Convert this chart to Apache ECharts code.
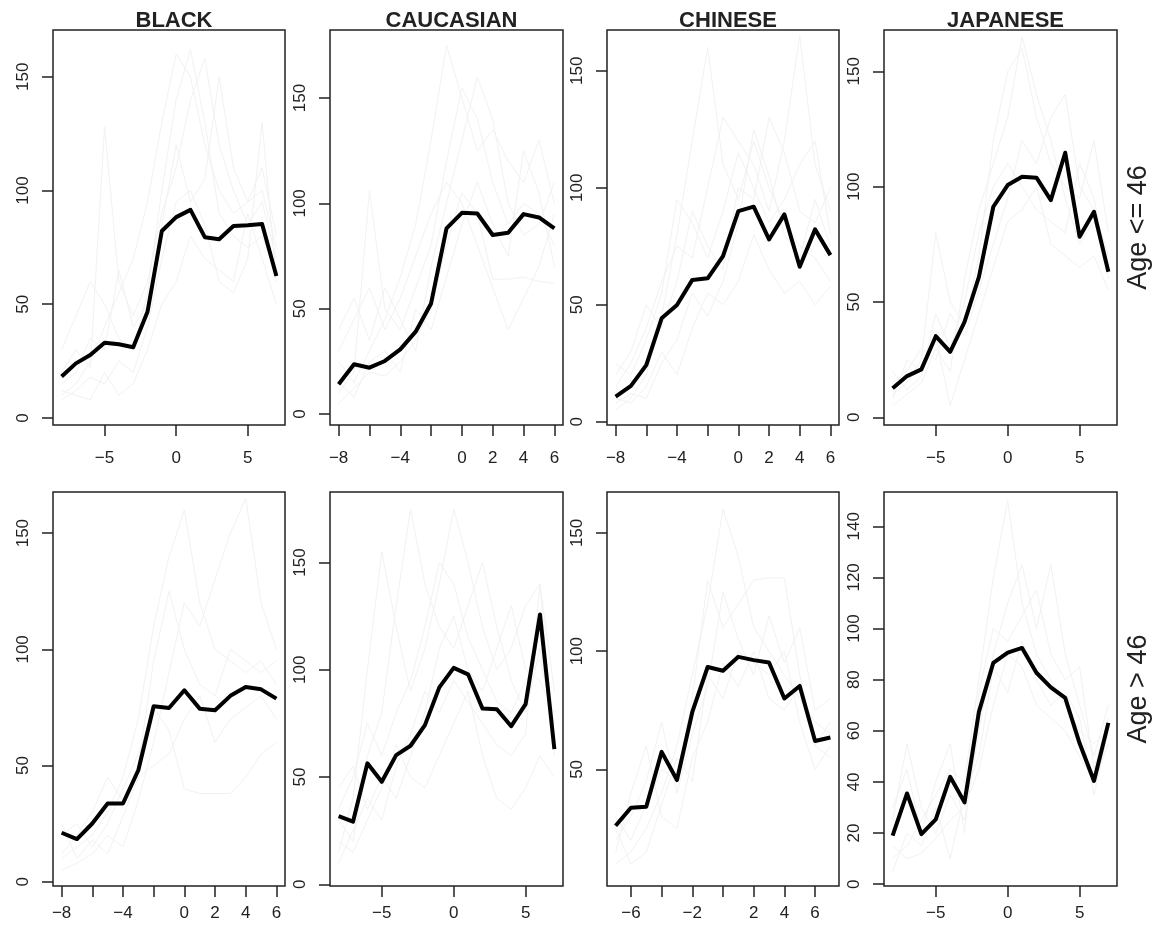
<!DOCTYPE html>
<html>
<head>
<meta charset="utf-8">
<script src="https://cdn.jsdelivr.net/npm/echarts@6/dist/echarts.min.js"></script>
<style>
  html, body { margin: 0; padding: 0; background: #fff; }
  #chart { width: 1160px; height: 932px; }
</style>
</head>
<body>
<div id="chart"></div>
<script>
var groups = ['BLACK', 'CAUCASIAN', 'CHINESE', 'JAPANESE'];
var ageLabels = ['Age <= 46', 'Age > 46'];

// time axes
var xFrom8To7 = [-8, -7, -6, -5, -4, -3, -2, -1, 0, 1, 2, 3, 4, 5, 6, 7];
var xFrom8To6 = [-8, -7, -6, -5, -4, -3, -2, -1, 0, 1, 2, 3, 4, 5, 6];
var xFrom7To7 = [-7, -6, -5, -4, -3, -2, -1, 0, 1, 2, 3, 4, 5, 6, 7];

// tick labels
var xTicksFive = [-5, 0, 5];
var xTicksEven = [-8, -6, -4, -2, 0, 2, 4, 6];
var xLabelsEven = [-8, -4, 0, 2, 4, 6];
var xTicksSix = [-6, -4, -2, 0, 2, 4, 6];
var xLabelsSix = [-6, -2, 2, 4, 6];
var yTicks50 = [0, 50, 100, 150];
var yTicks50NoZero = [50, 100, 150];
var yTicks20 = [0, 20, 40, 60, 80, 100, 120, 140];

// mean curves (thick black)
var meanBlackYoung = [18.2, 24.0, 27.7, 33.1, 32.4, 31.1, 46.7, 82.2, 88.3, 91.5, 79.5, 78.6, 84.4, 84.7, 85.3, 62.4];
var meanCaucYoung = [14.1, 23.6, 22.0, 25.2, 30.7, 39.1, 52.5, 88.1, 95.5, 95.2, 85.0, 86.1, 94.9, 93.3, 88.1];
var meanChinYoung = [10.7, 15.3, 24.2, 44.2, 49.9, 60.6, 61.3, 70.8, 90.0, 91.9, 77.9, 88.6, 66.2, 82.2, 71.2];
var meanJapYoung = [12.6, 17.9, 20.8, 35.2, 28.4, 41.4, 60.9, 91.3, 100.7, 104.3, 103.9, 94.2, 114.7, 78.3, 89.1, 63.1];
var meanBlackOld = [21.1, 18.4, 25.1, 33.7, 33.7, 48.0, 75.5, 74.8, 82.4, 74.5, 73.8, 80.0, 83.8, 82.8, 78.8];
var meanCaucOld = [31.8, 29.2, 56.4, 47.8, 60.2, 64.6, 74.2, 91.8, 100.9, 97.9, 82.0, 81.6, 73.7, 84.0, 125.8, 63.0];
var meanChinOld = [26.2, 33.8, 34.2, 57.4, 45.5, 74.3, 93.3, 91.7, 97.6, 96.2, 95.2, 80.0, 85.3, 62.0, 63.5];
var meanJapOld = [19.0, 35.5, 19.6, 25.4, 42.0, 32.0, 67.4, 86.6, 90.6, 92.4, 82.7, 77.0, 72.9, 55.1, 40.4, 63.1];

// individual curves (faint grey), estimated
var faintBlackYoung = [
  [10, 15, 25, 40, 55, 70, 95, 130, 160, 150, 120, 100, 90, 95, 110, 80],
  [20, 30, 22, 128, 60, 45, 60, 90, 110, 140, 158, 120, 100, 85, 95, 70],
  [8, 12, 18, 15, 25, 20, 40, 70, 95, 100, 85, 60, 55, 70, 130, 60],
  [30, 45, 60, 50, 35, 30, 55, 100, 140, 162, 130, 90, 80, 75, 80, 65],
  [12, 10, 8, 20, 10, 15, 30, 50, 60, 80, 70, 65, 60, 90, 70, 50],
  [15, 20, 35, 30, 65, 40, 50, 85, 120, 95, 105, 150, 110, 95, 100, 75]
];
var faintCaucYoung = [
  [10, 20, 106, 50, 40, 60, 80, 120, 155, 140, 110, 90, 100, 95, 80],
  [25, 15, 30, 45, 65, 90, 130, 175, 150, 125, 135, 120, 110, 130, 100],
  [5, 12, 20, 18, 25, 35, 50, 80, 105, 95, 64, 64, 65, 63, 62],
  [40, 55, 35, 60, 45, 30, 70, 100, 130, 160, 140, 100, 85, 90, 110],
  [15, 8, 25, 30, 20, 50, 40, 65, 90, 110, 90, 75, 125, 105, 70],
  [30, 45, 60, 40, 55, 75, 95, 110, 100, 80, 60, 40, 55, 70, 95]
];
var faintChinYoung = [
  [5, 10, 20, 45, 80, 120, 160, 110, 95, 120, 100, 85, 75, 70, 60],
  [15, 25, 40, 60, 75, 70, 100, 130, 120, 110, 90, 120, 165, 110, 90],
  [8, 12, 10, 25, 35, 55, 45, 60, 85, 125, 105, 80, 70, 95, 75],
  [20, 30, 50, 40, 60, 90, 75, 65, 100, 95, 130, 115, 90, 85, 100],
  [10, 8, 15, 30, 20, 40, 55, 50, 60, 80, 65, 55, 60, 50, 58],
  [25, 20, 35, 55, 95, 85, 70, 90, 115, 100, 85, 95, 110, 120, 80]
];
var faintJapYoung = [
  [10, 15, 25, 80, 50, 40, 70, 120, 150, 160, 130, 110, 100, 95, 120, 80],
  [5, 10, 15, 30, 20, 60, 90, 110, 130, 165, 140, 120, 95, 75, 85, 65],
  [15, 20, 30, 25, 45, 35, 55, 75, 95, 120, 110, 130, 140, 100, 90, 70],
  [20, 12, 18, 45, 30, 50, 80, 100, 110, 100, 90, 85, 80, 110, 95, 60],
  [8, 25, 20, 35, 5, 25, 45, 65, 85, 90, 100, 75, 70, 65, 70, 55]
];
var faintBlackOld = [
  [10, 15, 20, 30, 45, 70, 110, 140, 160, 120, 100, 95, 90, 95, 85],
  [5, 8, 12, 20, 15, 35, 60, 90, 120, 110, 130, 150, 165, 120, 100],
  [20, 25, 15, 25, 40, 55, 75, 65, 40, 38, 38, 38, 45, 55, 60],
  [12, 20, 30, 45, 35, 50, 95, 125, 100, 85, 80, 100, 95, 90, 95],
  [25, 10, 18, 12, 28, 45, 50, 55, 70, 80, 60, 70, 75, 80, 70]
];
var faintCaucOld = [
  [15, 40, 100, 155, 120, 90, 110, 140, 175, 150, 120, 100, 110, 130, 140, 90],
  [30, 20, 60, 80, 130, 175, 140, 120, 110, 130, 150, 120, 95, 80, 110, 70],
  [10, 25, 40, 30, 55, 70, 90, 80, 95, 85, 75, 65, 60, 70, 140, 60],
  [45, 55, 35, 50, 40, 60, 80, 110, 125, 100, 90, 110, 130, 100, 95, 80],
  [20, 15, 30, 45, 65, 50, 45, 60, 75, 90, 60, 40, 35, 45, 60, 50],
  [35, 50, 75, 60, 80, 95, 120, 150, 140, 115, 100, 85, 80, 95, 105, 75]
];
var faintChinOld = [
  [10, 15, 25, 40, 60, 90, 120, 160, 140, 110, 100, 90, 80, 70, 65],
  [30, 20, 35, 50, 45, 80, 130, 110, 120, 130, 131, 131, 90, 60, 55],
  [15, 40, 60, 30, 25, 55, 70, 95, 85, 100, 80, 75, 85, 60, 70],
  [25, 10, 15, 35, 55, 45, 90, 80, 100, 95, 90, 100, 70, 50, 60],
  [20, 30, 45, 70, 40, 65, 85, 125, 105, 90, 115, 95, 110, 75, 80]
];
var faintJapOld = [
  [10, 15, 25, 35, 45, 40, 80, 120, 150, 110, 90, 80, 70, 60, 55, 60],
  [25, 55, 30, 20, 35, 25, 60, 90, 110, 125, 100, 125, 90, 70, 50, 70],
  [15, 10, 12, 18, 25, 30, 45, 70, 90, 85, 70, 65, 60, 50, 40, 55],
  [30, 45, 20, 40, 55, 20, 75, 100, 95, 105, 115, 90, 80, 85, 45, 65],
  [5, 20, 15, 30, 10, 35, 50, 85, 75, 95, 80, 70, 75, 65, 35, 60]
];

var panels = [
  {x: xFrom8To7, mean: meanBlackYoung, faint: faintBlackYoung, yMin: -3.1, yMax: 170.6, yTicks: yTicks50, xTicks: xTicksFive, xLabels: xTicksFive},
  {x: xFrom8To6, mean: meanCaucYoung, faint: faintCaucYoung, yMin: -5.2, yMax: 182.3, yTicks: yTicks50, xTicks: xTicksEven, xLabels: xLabelsEven},
  {x: xFrom8To6, mean: meanChinYoung, faint: faintChinYoung, yMin: -1.4, yMax: 167.4, yTicks: yTicks50, xTicks: xTicksEven, xLabels: xLabelsEven},
  {x: xFrom8To7, mean: meanJapYoung, faint: faintJapYoung, yMin: -3.3, yMax: 167.9, yTicks: yTicks50, xTicks: xTicksFive, xLabels: xTicksFive},
  {x: xFrom8To6, mean: meanBlackOld, faint: faintBlackOld, yMin: -1.8, yMax: 167.7, yTicks: yTicks50, xTicks: xTicksEven, xLabels: xLabelsEven},
  {x: xFrom8To7, mean: meanCaucOld, faint: faintCaucOld, yMin: -0.8, yMax: 182.9, yTicks: yTicks50, xTicks: xTicksFive, xLabels: xTicksFive},
  {x: xFrom7To7, mean: meanChinOld, faint: faintChinOld, yMin: 0.7, yMax: 167.3, yTicks: yTicks50NoZero, xTicks: xTicksSix, xLabels: xLabelsSix},
  {x: xFrom8To7, mean: meanJapOld, faint: faintJapOld, yMin: -0.7, yMax: 153.4, yTicks: yTicks20, xTicks: xTicksFive, xLabels: xTicksFive}
];

var colLeft = [53, 330, 607, 884];
var colWidth = [232, 233, 232, 233];
var rowTop = [30, 492];
var rowHeight = [395, 394];
var rowLabelMargin = [25, 19];

var FONT = 'Liberation Sans, Arial, sans-serif';
var INK = '#222';

var minus = function (v) {
  return String(v).replace('-', '\u2212');
};

var pairs = function (xs, ys) {
  var out = [];
  for (var i = 0; i < xs.length; i++) {
    out.push([xs[i], ys[i]]);
  }
  return out;
};

var option = {
  animation: false,
  backgroundColor: '#fff',
  title: [],
  grid: [],
  xAxis: [],
  yAxis: [],
  series: [],
  graphic: []
};

for (var p = 0; p < panels.length; p++) {
  var panel = panels[p];
  var row = Math.floor(p / 4);
  var col = p % 4;

  option.grid.push({
    left: colLeft[col], top: rowTop[row], width: colWidth[col], height: rowHeight[row],
    show: true, borderColor: INK, borderWidth: 1.5, backgroundColor: 'transparent',
    containLabel: false
  });

  var pad = (panel.x[panel.x.length - 1] - panel.x[0]) * 0.04;
  option.xAxis.push({
    type: 'value', gridIndex: p, position: 'bottom',
    min: panel.x[0] - pad, max: panel.x[panel.x.length - 1] + pad,
    axisLine: {show: false, onZero: false},
    splitLine: {show: false},
    axisTick: {show: true, length: 11, lineStyle: {color: INK, width: 1.5}, customValues: panel.xTicks},
    axisLabel: {
      show: true, customValues: panel.xLabels, margin: rowLabelMargin[row],
      color: INK, fontSize: 17, fontFamily: FONT, formatter: minus
    }
  });

  option.yAxis.push({
    type: 'value', gridIndex: p, position: 'left',
    min: panel.yMin, max: panel.yMax,
    axisLine: {show: false, onZero: false},
    splitLine: {show: false},
    axisTick: {show: true, length: 11, lineStyle: {color: INK, width: 1.5}, customValues: panel.yTicks},
    axisLabel: {
      show: true, customValues: panel.yTicks, rotate: 90, margin: 21,
      color: INK, fontSize: 17, fontFamily: FONT
    }
  });

  for (var k = 0; k < panel.faint.length; k++) {
    option.series.push({
      type: 'line', xAxisIndex: p, yAxisIndex: p,
      data: pairs(panel.x, panel.faint[k]),
      symbol: 'none', silent: true,
      lineStyle: {color: '#f2f2f2', width: 1}
    });
  }
  option.series.push({
    type: 'line', xAxisIndex: p, yAxisIndex: p,
    data: pairs(panel.x, panel.mean),
    symbol: 'none',
    lineStyle: {color: '#000', width: 4, join: 'round'}
  });
}

for (var c = 0; c < groups.length; c++) {
  option.title.push({
    text: groups[c],
    left: colLeft[c] + colWidth[c] / 2, top: 5, textAlign: 'center',
    textStyle: {fontSize: 22, fontWeight: 'bold', color: INK, fontFamily: FONT}
  });
}

for (var r = 0; r < ageLabels.length; r++) {
  option.graphic.push({
    type: 'text',
    x: 1139, y: rowTop[r] + rowHeight[r] / 2,
    rotation: Math.PI / 2,
    style: {
      text: ageLabels[r], fill: INK, fontSize: 27, fontFamily: FONT,
      textAlign: 'center', textVerticalAlign: 'middle'
    }
  });
}

var myChart = echarts.init(document.getElementById('chart'), null, {renderer: 'canvas'});
myChart.setOption(option);
</script>
</body>
</html>
